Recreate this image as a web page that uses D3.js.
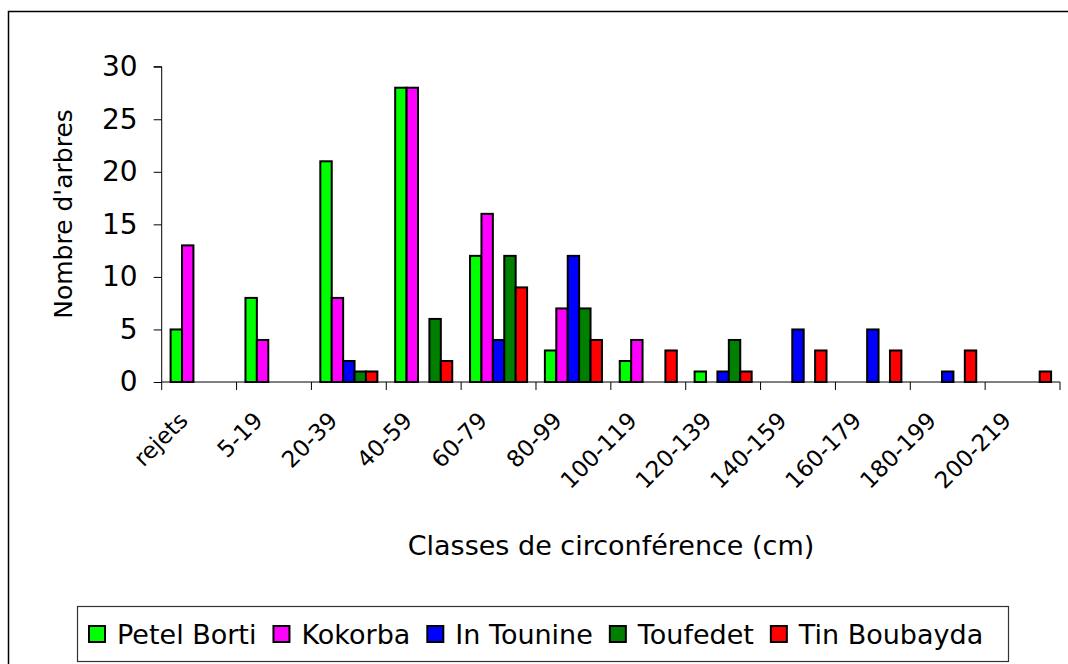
<!DOCTYPE html>
<html>
<head>
<meta charset="utf-8">
<script src="https://cdn.jsdelivr.net/npm/d3@7"></script>
<style>
  html, body { margin: 0; padding: 0; background: #fff; }
  svg { display: block; }
  text { font-family: "DejaVu Sans", sans-serif; fill: #000; }
</style>
</head>
<body>
<svg id="chart" width="1068" height="664"></svg>
<script>
// ---- Data ----
const categories = ["rejets", "5-19", "20-39", "40-59", "60-79", "80-99", "100-119",
                    "120-139", "140-159", "160-179", "180-199", "200-219"];
const seriesNames = ["Petel Borti", "Kokorba", "In Tounine", "Toufedet", "Tin Boubayda"];
const petelBorti  = [5, 8, 21, 28, 12, 3, 2, 1, 0, 0, 0, 0];
const kokorba     = [13, 4, 8, 28, 16, 7, 4, 0, 0, 0, 0, 0];
const inTounine   = [0, 0, 2, 0, 4, 12, 0, 1, 5, 5, 1, 0];
const toufedet    = [0, 0, 1, 6, 12, 7, 0, 4, 0, 0, 0, 0];
const tinBoubayda = [0, 0, 1, 2, 9, 4, 3, 1, 3, 3, 3, 1];
const yTicks = [0, 5, 10, 15, 20, 25, 30];
const colors = ["#00ff00", "#ff00ff", "#0000ff", "#008000", "#ff0000"];
const yTitle = "Nombre d'arbres";
const xTitle = "Classes de circonférence (cm)";

const seriesValues = [petelBorti, kokorba, inTounine, toufedet, tinBoubayda];

// ---- Layout ----
const svg = d3.select("#chart");
const plot = { left: 161.7, right: 1060, top: 66.7, bottom: 382 };

// outer chart border
svg.append("rect")
  .attr("x", 8.5).attr("y", 11.5)
  .attr("width", 1100).attr("height", 700)
  .attr("fill", "none").attr("stroke", "#000").attr("stroke-width", 1.5);

const x0 = d3.scaleBand().domain(categories).range([plot.left, plot.right]).padding(0);
const x1 = d3.scaleBand().domain(seriesNames).range([0, x0.bandwidth()])
  .paddingInner(0).paddingOuter(0.78);
const y = d3.scaleLinear().domain([0, 30]).range([plot.bottom, plot.top]);

// bars
const barData = [];
categories.forEach((c, ci) => {
  seriesNames.forEach((s, si) => {
    const v = seriesValues[si][ci];
    if (v > 0) barData.push({ c, s, v, color: colors[si] });
  });
});

svg.append("g").selectAll("rect").data(barData).join("rect")
  .attr("x", d => x0(d.c) + x1(d.s))
  .attr("y", d => y(d.v))
  .attr("width", x1.bandwidth())
  .attr("height", d => y(0) - y(d.v))
  .attr("fill", d => d.color)
  .attr("stroke", "#000")
  .attr("stroke-width", 2);

// Y axis
const yAxis = svg.append("g")
  .attr("transform", `translate(${plot.left},0)`)
  .call(d3.axisLeft(y).tickValues(yTicks).tickSize(8).tickPadding(16).tickFormat(d3.format("d")));
yAxis.select(".domain").attr("stroke", "#000").attr("d", `M-8,${y(30)}H0V${y(0)}`);
yAxis.selectAll(".tick line").attr("stroke", "#000");
yAxis.selectAll(".tick text").style("font-size", "28px").attr("fill", "#000")
  .style("font-family", '"DejaVu Sans", sans-serif');

// X axis
const xBounds = categories.map(c => x0(c)).concat([plot.right]);
const xAxisG = svg.append("g");
xAxisG.append("line")
  .attr("x1", plot.left).attr("x2", plot.right)
  .attr("y1", plot.bottom).attr("y2", plot.bottom)
  .attr("stroke", "#000");
xAxisG.selectAll("line.tk").data(xBounds).join("line").attr("class", "tk")
  .attr("x1", d => d).attr("x2", d => d)
  .attr("y1", plot.bottom).attr("y2", plot.bottom + 8)
  .attr("stroke", "#000");
xAxisG.selectAll("text").data(categories).join("text")
  .attr("transform", d => `translate(${x0(d) + x0.bandwidth() / 2 - 10},${plot.bottom + 40}) rotate(-45)`)
  .attr("text-anchor", "end")
  .style("font-size", "23px")
  .text(d => d);

// Axis titles
svg.append("text")
  .attr("transform", `translate(72,214) rotate(-90)`)
  .attr("text-anchor", "middle")
  .style("font-size", "25px")
  .text(yTitle);

svg.append("text")
  .attr("x", 611).attr("y", 555)
  .attr("text-anchor", "middle")
  .style("font-size", "27px")
  .text(xTitle);

// Legend
const legend = svg.append("g");
legend.append("rect")
  .attr("x", 77.5).attr("y", 606.5).attr("width", 931).attr("height", 55)
  .attr("fill", "#fff").attr("stroke", "#333").attr("stroke-width", 1.2);
let lx = 89;
seriesNames.forEach((s, i) => {
  legend.append("rect")
    .attr("x", lx).attr("y", 626).attr("width", 16).attr("height", 16)
    .attr("fill", colors[i]).attr("stroke", "#000").attr("stroke-width", 2);
  const t = legend.append("text")
    .attr("x", lx + 28).attr("y", 644)
    .style("font-size", "27px")
    .text(s);
  lx += 28 + t.node().getComputedTextLength() + 17;
});
</script>
</body>
</html>
